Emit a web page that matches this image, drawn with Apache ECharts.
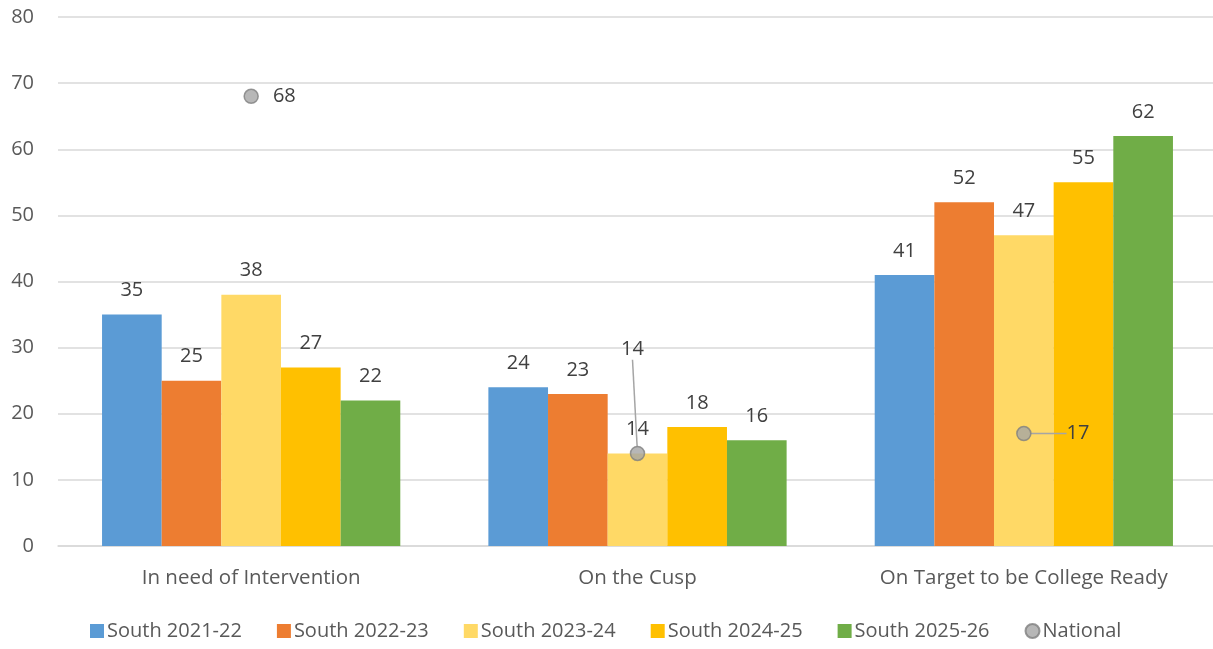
<!DOCTYPE html>
<html>
<head>
<meta charset="utf-8">
<script src="https://cdn.jsdelivr.net/npm/echarts@6/dist/echarts.min.js"></script>
<style>html,body{margin:0;padding:0;background:#fff;overflow:hidden;width:1213px;height:649px}#c{width:1217px;height:649px}</style>
</head>
<body>
<div id="c"></div>
<script>
const categories = ['In need of Intervention', 'On the Cusp', 'On Target to be College Ready'];
const seriesNames = ['South 2021-22', 'South 2022-23', 'South 2023-24', 'South 2024-25', 'South 2025-26'];
const south2122 = [35, 24, 41];
const south2223 = [25, 23, 52];
const south2324 = [38, 14, 47];
const south2425 = [27, 18, 55];
const south2526 = [22, 16, 62];
const national = [68, 14, 17];
const yTicks = [0, 10, 20, 30, 40, 50, 60, 70, 80];

const colors = ['#5B9BD5', '#ED7D31', '#FFD966', '#FFC000', '#70AD47'];
const font = 'Open Sans, Noto Sans, sans-serif';
const txt = '#404040';
const barData = [south2122, south2223, south2324, south2425, south2526];

const chart = echarts.init(document.getElementById('c'), null, {renderer: 'canvas'});
const series = barData.map((d, i) => ({
  name: seriesNames[i],
  type: 'bar',
  data: d,
  barGap: '0%',
  barCategoryGap: '22.8%',
  itemStyle: {color: colors[i]},
  label: {show: true, position: 'top', distance: 14, color: txt, fontSize: 20, fontFamily: font},
  z: 2
}));
const natLabelPos = ['right', 'top', 'right'];
const natLabelDist = [14, 5, 8];
const natLine = [false, true, true];
series.push({
  name: 'National',
  type: 'scatter',
  data: national.map((v, i) => ({
    value: v,
    label: {show: true, position: natLabelPos[i], distance: natLabelDist[i], color: txt, opacity: 1},
    labelLine: {show: natLine[i]}
  })),
  symbol: 'circle',
  symbolSize: 14,
  itemStyle: {color: '#A5A5A5', borderColor: '#7F7F7F', borderWidth: 1.5},
  label: {show: true, color: txt, fontSize: 20, fontFamily: font},
  labelLine: {show: true, lineStyle: {color: '#A5A5A5', width: 1.5}},
  labelLayout: function (p) {
    if (p.dataIndex === 1) return {dx: -5, dy: -81};
    if (p.dataIndex === 2) return {dx: 27};
    return {};
  },
  z: 5
});

chart.setOption({
  animation: false,
  backgroundColor: '#fff',
  grid: {left: 58, right: 0, top: 17, bottom: 103, containLabel: false},
  xAxis: {
    type: 'category',
    data: categories,
    axisLine: {show: true, lineStyle: {color: '#D9D9D9', width: 1.5}},
    axisTick: {show: false},
    axisLabel: {color: '#595959', fontSize: 20.5, fontFamily: font, margin: 22}
  },
  yAxis: {
    type: 'value',
    min: yTicks[0],
    max: yTicks[yTicks.length - 1],
    interval: 10,
    axisLine: {show: false},
    axisTick: {show: false},
    axisLabel: {color: '#595959', fontSize: 20, fontFamily: font, margin: 24},
    splitLine: {lineStyle: {color: '#D9D9D9', width: 1.5}}
  },
  legend: {
    bottom: 3,
    left: 85,
    itemWidth: 14,
    itemHeight: 14,
    itemGap: 35,
    textStyle: {color: '#595959', fontSize: 20, fontFamily: font, padding: [0, 0, 0, -2]},
    data: seriesNames.map(n => ({name: n, icon: 'rect'})).concat([{name: 'National', icon: 'circle'}])
  },
  series: series
});
</script>
</body>
</html>
